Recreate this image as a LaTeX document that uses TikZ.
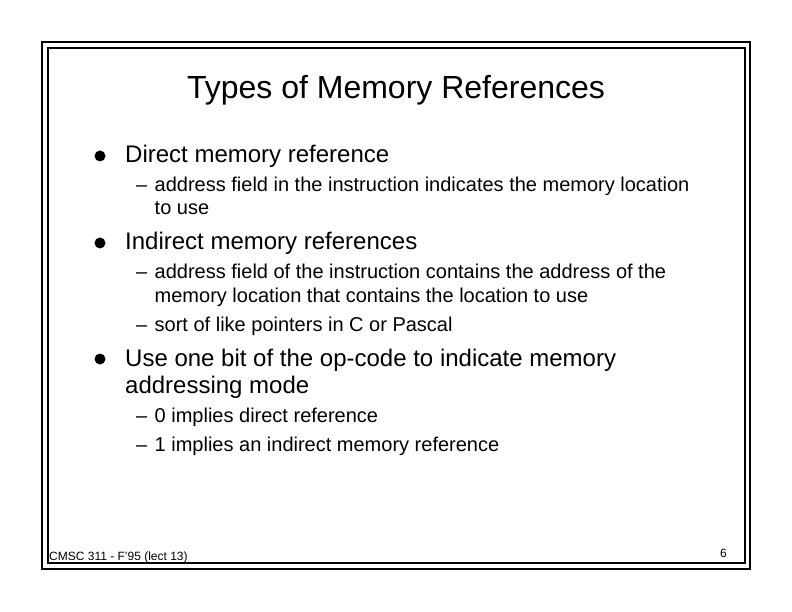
\documentclass[tikz,border=0pt]{standalone}
\usepackage{fontspec}
\setmainfont{Liberation Sans}
\begin{document}
\begin{tikzpicture}[x=1pt,y=-1pt,
    heading/.style={anchor=base,inner sep=0pt,font=\fontsize{32}{38}\selectfont},
    item/.style={anchor=base west,inner sep=0pt,font=\fontsize{24}{28}\selectfont},
    subitem/.style={anchor=base west,inner sep=0pt,font=\fontsize{20}{23}\selectfont},
    dot/.style={fill,radius=5.5pt},
    subdash/.style={anchor=base west,inner sep=0pt,font=\fontsize{20}{23}\selectfont},
    foot/.style={inner sep=0pt,font=\fontsize{12}{14}\selectfont}]
    \useasboundingbox (0,0) rectangle (792,612);
    \draw [line width=1.2pt] (42,42) rectangle (750,569);
    \draw [line width=1.2pt] (48,48) rectangle (745,563);
    \node [heading] (title) at (396,99) {Types of Memory References};
    % direct
    \coordinate (dotA) at (100,156);
    \fill [dot] (dotA) circle;
    \node [item] (direct) at (125,163) {Direct memory reference};
    \node [subdash] (dashA) at (136,192) {--};
    \node [subitem] (directA) at (154.5,192) {address field in the instruction indicates the memory location};
    \node [subitem] (directB) at (154.5,215) {to use};
    % indirect
    \coordinate (dotB) at (100,243);
    \fill [dot] (dotB) circle;
    \node [item] (indirect) at (125,250) {Indirect memory references};
    \node [subdash] (dashB) at (136,279) {--};
    \node [subitem] (indirectA) at (154.5,279) {address field of the instruction contains the address of the};
    \node [subitem] (indirectB) at (154.5,302) {memory location that contains the location to use};
    \node [subdash] (dashC) at (136,331) {--};
    \node [subitem] (indirectC) at (154.5,331) {sort of like pointers in C or Pascal};
    % mode bit
    \coordinate (dotC) at (100,359);
    \fill [dot] (dotC) circle;
    \node [item] (modeA) at (125,366) {Use one bit of the op-code to indicate memory};
    \node [item] (modeB) at (125,393) {addressing mode};
    \node [subdash] (dashD) at (136,422) {--};
    \node [subitem] (zero) at (154.5,422) {0 implies direct reference};
    \node [subdash] (dashE) at (136,451) {--};
    \node [subitem] (one) at (154.5,451) {1 implies an indirect memory reference};
    % footer
    \node [foot,anchor=base west] (course) at (49,560) {CMSC 311 - F'95 (lect 13)};
    \node [foot,anchor=base east] (page) at (727,557) {6};
\end{tikzpicture}
\end{document}
